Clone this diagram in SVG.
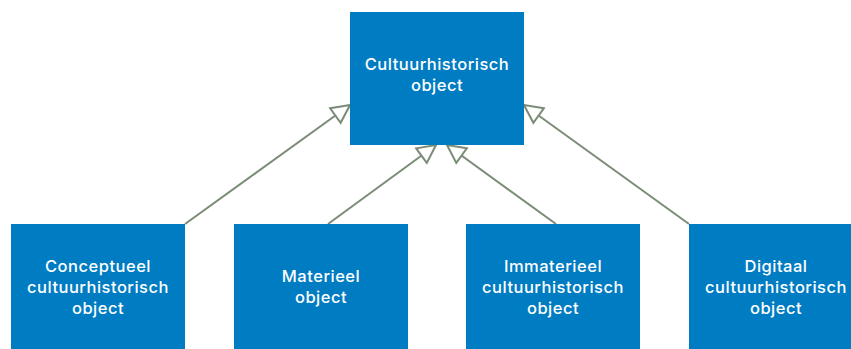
<svg xmlns="http://www.w3.org/2000/svg" width="851" height="349" viewBox="0 0 851 349">
<style>
.box{fill:#007CC3}
.lbl{fill:#ffffff;font-family:Inter,"Open Sans",sans-serif;font-size:16.5px;font-weight:500;letter-spacing:0.5px;text-anchor:middle}
.conn{stroke:#7A8B76;stroke-width:2;fill:none}
</style>
<defs>
<marker id="tri" markerUnits="userSpaceOnUse" markerWidth="24" markerHeight="24" viewBox="-22 -12 24 24" refX="0" refY="0" orient="auto">
<path d="M0,0 L-18,-9 L-18,9 Z" fill="#ffffff" stroke="#7A8B76" stroke-width="2"/>
</marker>
</defs>
<rect width="851" height="349" fill="#ffffff"/>
<g id="connectors">
<line class="conn" x1="185" y1="224" x2="350" y2="105" marker-end="url(#tri)"/>
<line class="conn" x1="328" y1="224" x2="436" y2="145" marker-end="url(#tri)"/>
<line class="conn" x1="556" y1="224" x2="447" y2="145" marker-end="url(#tri)"/>
<line class="conn" x1="689" y1="224" x2="524" y2="105" marker-end="url(#tri)"/>
</g>
<g id="cultuurhistorisch-object">
<rect class="box" x="350" y="12" width="174" height="133"/>
<text class="lbl" x="437" y="70">Cultuurhistorisch</text>
<text class="lbl" x="437" y="91">object</text>
</g>
<g id="conceptueel">
<rect class="box" x="11" y="224" width="174" height="133"/>
<text class="lbl" x="98" y="272">Conceptueel</text>
<text class="lbl" x="98" y="293">cultuurhistorisch</text>
<text class="lbl" x="98" y="314">object</text>
</g>
<g id="materieel">
<rect class="box" x="234" y="224" width="174" height="133"/>
<text class="lbl" x="321" y="282">Materieel</text>
<text class="lbl" x="321" y="303">object</text>
</g>
<g id="immaterieel">
<rect class="box" x="466" y="224" width="174" height="133"/>
<text class="lbl" x="553" y="272">Immaterieel</text>
<text class="lbl" x="553" y="293">cultuurhistorisch</text>
<text class="lbl" x="553" y="314">object</text>
</g>
<g id="digitaal">
<rect class="box" x="689" y="224" width="174" height="133"/>
<text class="lbl" x="776" y="272">Digitaal</text>
<text class="lbl" x="776" y="293">cultuurhistorisch</text>
<text class="lbl" x="776" y="314">object</text>
</g>
</svg>
